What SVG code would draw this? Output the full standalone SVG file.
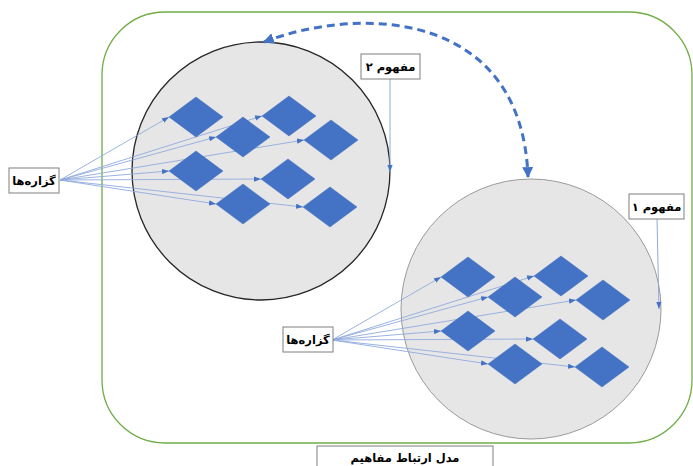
<svg xmlns="http://www.w3.org/2000/svg" width="693" height="466" viewBox="0 0 693 466">
<defs>
<style>
.frame{fill:#fff;stroke:#70AD47;stroke-width:1.3}
.c1{fill:#E7E6E6;stroke:#262626;stroke-width:1.3}
.c2{fill:#E7E6E6;stroke:#9a9a9a;stroke-width:1}
.dia{fill:#4472C4;stroke:#3F6DBF;stroke-width:0.5}
.fan{fill:none;stroke:#8FAADC;stroke-width:0.9;marker-end:url(#ah)}
.lead{fill:none;stroke:#8FAADC;stroke-width:1;marker-end:url(#ah)}
.box{fill:#fff;stroke:#7F7F7F;stroke-width:1}
.lbl{font-family:"DejaVu Sans","Noto Sans",sans-serif;font-size:11.5px;font-weight:bold;fill:#000;text-anchor:middle}
.dash{fill:none;stroke:#4472C4;stroke-width:3;stroke-dasharray:8 5;marker-end:url(#bh);marker-start:url(#bs)}
</style>
<marker id="ah" viewBox="0 0 8 6" refX="8" refY="3" markerWidth="7" markerHeight="5.5" markerUnits="userSpaceOnUse" orient="auto">
<path d="M0,0 L8,3 L0,6 Z" fill="#4472C4"/>
</marker>
<marker id="bh" viewBox="0 0 10 10" refX="9" refY="5" markerWidth="11" markerHeight="11" markerUnits="userSpaceOnUse" orient="auto">
<path d="M0,0 L10,5 L0,10 Z" fill="#4472C4"/>
</marker>
<marker id="bs" viewBox="0 0 10 10" refX="1" refY="5" markerWidth="11" markerHeight="11" markerUnits="userSpaceOnUse" orient="auto">
<path d="M10,0 L0,5 L10,10 Z" fill="#4472C4"/>
</marker>
<g id="dset">
<path class="dia" d="M169,117 L196,97 L223,117 L196,137 Z"/>
<path class="dia" d="M216,137 L243,117 L270,137 L243,157 Z"/>
<path class="dia" d="M262,116 L289,96 L316,116 L289,136 Z"/>
<path class="dia" d="M304,140 L331,120 L358,140 L331,160 Z"/>
<path class="dia" d="M169,171 L196,151 L223,171 L196,191 Z"/>
<path class="dia" d="M261,179 L288,159 L315,179 L288,199 Z"/>
<path class="dia" d="M216,204 L243,184 L270,204 L243,224 Z"/>
<path class="dia" d="M303,207 L330,187 L357,207 L330,227 Z"/>
</g>
<g id="fset">
<path class="fan" d="M60,180 L169,117"/>
<path class="fan" d="M60,180 L216,137"/>
<path class="fan" d="M60,180 L262,116"/>
<path class="fan" d="M60,180 L304,140"/>
<path class="fan" d="M60,180 L169,171"/>
<path class="fan" d="M60,180 L261,179"/>
<path class="fan" d="M60,180 L216,204"/>
<path class="fan" d="M60,180 L303,207"/>
</g>
</defs>

<g id="frame"><rect class="frame" x="102" y="12" width="590" height="431" rx="63" ry="63"/></g>

<g id="concept2-circle"><circle class="c1" cx="261" cy="171" r="129"/></g>
<g id="concept1-circle"><circle class="c2" cx="531" cy="309" r="130"/></g>

<g id="connectors">
<use href="#fset"/>
<use href="#fset" transform="translate(272,160)"/>
<path class="lead" d="M390,79 L390,172"/>
<path class="lead" d="M657,219 L659,309"/>
<path class="dash" d="M264,42 C360,5 522,10 528,177"/>
</g>

<g id="diamonds1"><use href="#dset"/></g>
<g id="diamonds2"><use href="#dset" transform="translate(272,160)"/></g>

<g id="label-propositions1">
<rect class="box" x="9" y="168" width="50" height="25"/>
<text class="lbl" x="34" y="185">گزاره‌ها</text>
</g>
<g id="label-propositions2">
<rect class="box" x="283" y="327" width="50" height="25"/>
<text class="lbl" x="308" y="344">گزاره‌ها</text>
</g>
<g id="label-concept2">
<rect class="box" x="361" y="54" width="59" height="25"/>
<text class="lbl" x="390.5" y="71">مفهوم ۲</text>
</g>
<g id="label-concept1">
<rect class="box" x="629" y="194" width="55" height="25"/>
<text class="lbl" x="656.5" y="211">مفهوم ۱</text>
</g>
<g id="label-model">
<rect class="box" x="317" y="446" width="176" height="30"/>
<text class="lbl" x="405" y="461.5">مدل ارتباط مفاهیم</text>
</g>
</svg>
